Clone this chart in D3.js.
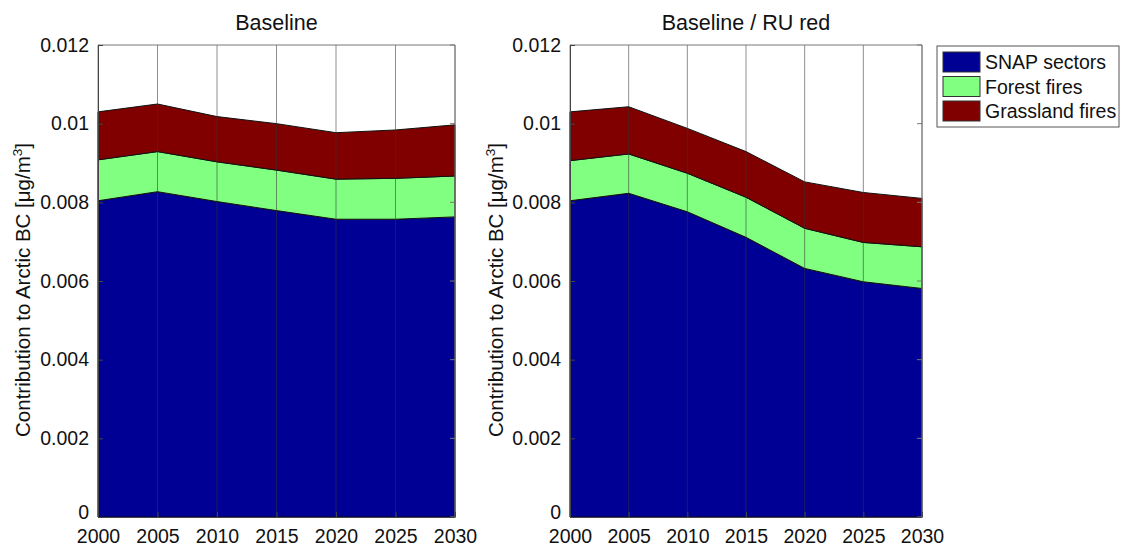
<!DOCTYPE html>
<html>
<head>
<meta charset="utf-8">
<script src="https://cdn.jsdelivr.net/npm/d3@7"></script>
<style>
  body { margin: 0; background: #fff; }
  text { font-family: "Liberation Sans", Arial, sans-serif; fill: #111; }
</style>
</head>
<body>
<div id="chart"></div>
<script>
const years = [2000, 2005, 2010, 2015, 2020, 2025, 2030];
const seriesNames = ["SNAP sectors", "Forest fires", "Grassland fires"];
const seriesColors = ["#000094", "#80ff80", "#800000"];
const yTicks = [0, 0.002, 0.004, 0.006, 0.008, 0.01, 0.012];
const yTickLabels = ["0", "0.002", "0.004", "0.006", "0.008", "0.01", "0.012"];

// Baseline
const baseSnap   = [0.00804, 0.00827, 0.00802, 0.00779, 0.00757, 0.00757, 0.00763];
const baseForest = [0.00104, 0.00102, 0.00101, 0.00103, 0.00102, 0.00104, 0.00104];
const baseGrass  = [0.00122, 0.00121, 0.00115, 0.00118, 0.00118, 0.00123, 0.00130];

// Baseline / RU red
const ruSnap   = [0.00804, 0.00823, 0.00776, 0.00711, 0.00632, 0.00598, 0.00581];
const ruForest = [0.00102, 0.00100, 0.00098, 0.00102, 0.00102, 0.00100, 0.00106];
const ruGrass  = [0.00124, 0.00120, 0.00114, 0.00116, 0.00118, 0.00127, 0.00123];

const W = 1121, H = 549;
const plotTop = 45, plotBottom = 517;

const svg = d3.select("#chart").append("svg")
  .attr("width", W).attr("height", H);

const drawPanel = (x0, x1, title, snap, forest, grass, labelX) => {
  const rows = years.map((yr, i) => ({
    year: yr, s0: snap[i], s1: forest[i], s2: grass[i]
  }));
  const layers = d3.stack().keys(["s0", "s1", "s2"])(rows);

  const x = d3.scaleLinear().domain([2000, 2030]).range([x0, x1]);
  const y = d3.scaleLinear().domain([0, 0.012]).range([plotBottom, plotTop]);

  const area = d3.area()
    .x(d => x(d.data.year))
    .y0(d => y(d[0]))
    .y1(d => y(d[1]));

  const g = svg.append("g");

  g.selectAll(".layer")
    .data(layers)
    .enter()
    .append("path")
      .attr("d", area)
      .attr("fill", (d, i) => seriesColors[i])
      .attr("stroke", "#111")
      .attr("stroke-width", 1)
      .attr("stroke-linejoin", "round");

  // vertical grid
  g.selectAll(".grid")
    .data(years)
    .enter()
    .append("line")
      .attr("x1", d => x(d)).attr("x2", d => x(d))
      .attr("y1", plotTop).attr("y2", plotBottom)
      .attr("stroke", "#333")
      .attr("stroke-opacity", 0.55)
      .attr("stroke-width", 1);

  // box (top & right)
  g.append("path")
    .attr("d", `M${x0},${plotTop}H${x1}V${plotBottom}`)
    .attr("fill", "none")
    .attr("stroke", "#777")
    .attr("stroke-width", 1);

  // right-side ticks
  g.selectAll(".rtick")
    .data(yTicks)
    .enter()
    .append("line")
      .attr("x1", x1).attr("x2", x1 - 5)
      .attr("y1", d => y(d)).attr("y2", d => y(d))
      .attr("stroke", "#777");

  const yAxis = g.append("g")
    .attr("transform", `translate(${x0},0)`)
    .call(d3.axisLeft(y).tickValues(yTicks)
      .tickFormat((d, i) => yTickLabels[i])
      .tickSizeInner(-5).tickSizeOuter(0).tickPadding(9));
  yAxis.selectAll("text").style("font-size", "19.5px");
  // nudge the "0" label up, as in the original, so it clears the year labels
  yAxis.selectAll("text").filter(d => d === 0).attr("dy", "0.1em");

  const xAxis = g.append("g")
    .attr("transform", `translate(0,${plotBottom})`)
    .call(d3.axisBottom(x).tickValues(years)
      .tickFormat(d3.format("d"))
      .tickSizeInner(-5).tickSizeOuter(0).tickPadding(12));
  xAxis.selectAll("text").style("font-size", "19.5px");
  g.selectAll(".domain").attr("stroke", "#444");
  g.selectAll(".tick line").attr("stroke", "#444");

  g.append("text")
    .attr("x", (x0 + x1) / 2)
    .attr("y", 30)
    .attr("text-anchor", "middle")
    .style("font-size", "21.5px")
    .text(title);

  const lbl = g.append("text")
    .attr("transform", `translate(${labelX},290) rotate(-90)`)
    .attr("text-anchor", "middle")
    .style("font-size", "20.5px");
  lbl.append("tspan").text("Contribution to Arctic BC [μg/m");
  lbl.append("tspan").attr("dy", -8).style("font-size", "13.5px").text("3");
  lbl.append("tspan").attr("dy", 8).text("]");
};

drawPanel(98, 455, "Baseline", baseSnap, baseForest, baseGrass, 30);
drawPanel(570, 922, "Baseline / RU red", ruSnap, ruForest, ruGrass, 503);

// legend
const legend = svg.append("g");
legend.append("rect")
  .attr("x", 937).attr("y", 46)
  .attr("width", 182).attr("height", 81)
  .attr("fill", "#fff")
  .attr("stroke", "#555");
const items = legend.selectAll(".item")
  .data(seriesNames)
  .enter()
  .append("g")
    .attr("transform", (d, i) => `translate(943,${52 + i * 24.5})`);
items.append("rect")
  .attr("width", 37).attr("height", 20)
  .attr("fill", (d, i) => seriesColors[i])
  .attr("stroke", "#333");
items.append("text")
  .attr("x", 42).attr("y", 17)
  .style("font-size", "19.5px")
  .text(d => d);
</script>
</body>
</html>
